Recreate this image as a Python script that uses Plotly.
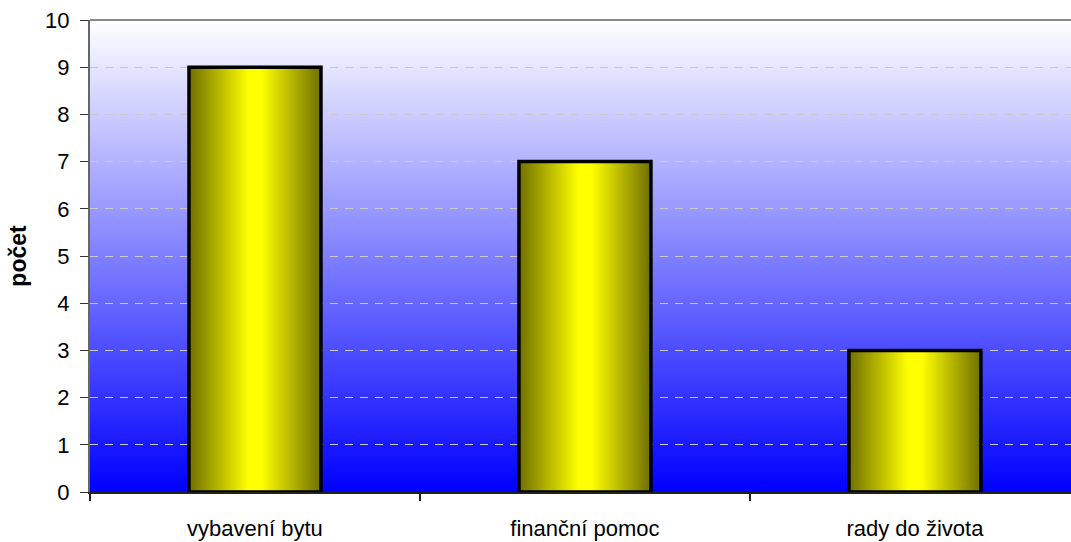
import urllib.parse
import plotly.graph_objects as go

# data
categories = ["vybavení bytu", "finanční pomoc", "rady do života"]
counts = [9, 7, 3]
y_ticks = list(range(0, 11))

xpos = list(range(len(categories)))
bar_w = 0.4

# vertical white -> blue background as an svg gradient image
svg = ('<svg xmlns="http://www.w3.org/2000/svg" width="10" height="100" '
       'viewBox="0 0 10 100" preserveAspectRatio="none">'
       '<defs><linearGradient id="g" x1="0" y1="0" x2="0" y2="1">'
       '<stop offset="0" stop-color="#ffffff"/><stop offset="1" stop-color="#0000ff"/>'
       '</linearGradient></defs><rect width="10" height="100" fill="url(#g)"/></svg>')
bg_src = "data:image/svg+xml;charset=utf-8," + urllib.parse.quote(svg)

fig = go.Figure()

# bars: each one a filled rectangle with a horizontal olive-yellow-olive gradient
bar_scale = [[0, "#6f6f00"], [0.45, "#ffff00"], [0.55, "#ffff00"], [1, "#6f6f00"]]
for i, v, name in zip(xpos, counts, categories):
    fig.add_trace(go.Scatter(
        x=[i - bar_w / 2, i + bar_w / 2, i + bar_w / 2, i - bar_w / 2, i - bar_w / 2],
        y=[0, 0, v, v, 0],
        mode="lines", fill="toself",
        fillgradient=dict(type="horizontal", colorscale=bar_scale),
        line=dict(color="black", width=3.5),
        name=name, hoveron="fills", text=f"{name}: {v}", hoverinfo="text",
        showlegend=False))

font = "Liberation Sans, Arial, sans-serif"
fig.update_layout(
    width=1071, height=542,
    margin=dict(l=90, r=0, t=20, b=50),
    paper_bgcolor="white", plot_bgcolor="rgba(0,0,0,0)",
    font=dict(family=font, size=22, color="black"),
    images=[dict(source=bg_src, xref="paper", yref="paper", x=0, y=1,
                 sizex=1, sizey=1, sizing="stretch", layer="below",
                 xanchor="left", yanchor="top")],
    shapes=[dict(type="line", xref="paper", yref="paper", x0=0, x1=1, y0=1, y1=1,
                 line=dict(color="#8a8a8a", width=2))],
    xaxis=dict(range=[-0.5, 2.473], tickvals=xpos, ticktext=categories,
               ticks="", showgrid=False, zeroline=False,
               showline=True, linecolor="#222222", linewidth=2,
               minor=dict(tickvals=[-0.5, 0.5, 1.5, 2.5], ticks="outside",
                          ticklen=7, tickcolor="#222222", tickwidth=1.5,
                          showgrid=False),
               tickfont=dict(size=22), ticklabelstandoff=16),
    yaxis=dict(range=[0, 10], tickvals=y_ticks, ticks="outside", ticklen=8,
               tickcolor="#333333", showline=True, linecolor="#666666", linewidth=2,
               zeroline=False, showgrid=True, gridcolor="#c8c8c8", gridwidth=1,
               griddash="8px,7px", tickfont=dict(size=22), ticklabelstandoff=6,
               title=dict(text="<b>počet</b>", font=dict(size=23), standoff=12)),
)

fig.write_html("out.html", config={"displayModeBar": False},
               post_script="document.body.style.margin='0';")
